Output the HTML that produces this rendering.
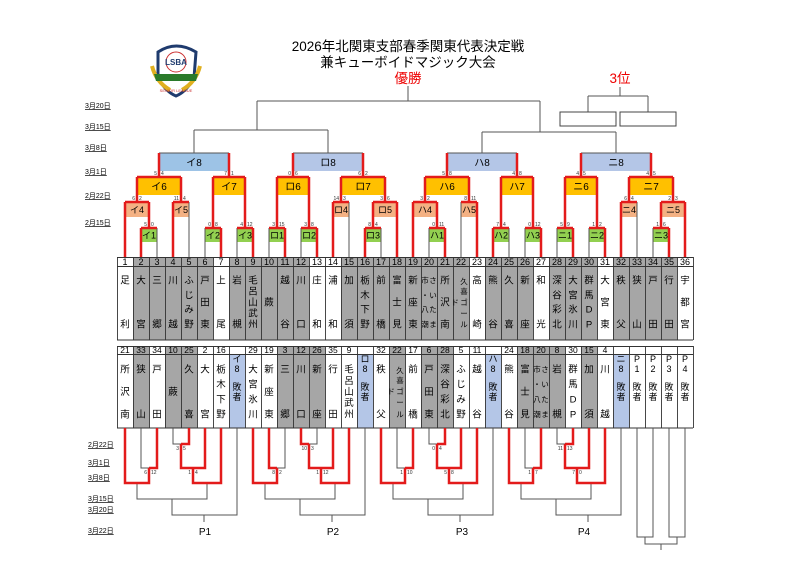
<!DOCTYPE html>
<html><head><meta charset="utf-8"><style>
html,body{margin:0;padding:0;background:#fff;}
svg{display:block;}
text{font-family:"Liberation Sans","Noto Sans CJK JP",sans-serif;}
.t{font-size:9.5px;text-anchor:middle;fill:#000;}
.s{font-size:7.5px;text-anchor:middle;fill:#000;}
.h{font-size:9px;text-anchor:middle;fill:#000;}
.b{font-size:9px;text-anchor:middle;fill:#000;}
.d{font-size:7px;fill:#000;text-decoration:underline;}
.sl{font-size:5px;text-anchor:end;fill:#333;}
.sr{font-size:5px;text-anchor:start;fill:#333;}
</style></head><body>
<svg width="800" height="565" viewBox="0 0 800 565" xmlns="http://www.w3.org/2000/svg">
<defs>
<pattern id="vg" x="117" y="0" width="16" height="600" patternUnits="userSpaceOnUse"><path d="M0.5 0V600" stroke="#333" stroke-width="0.9"/></pattern>
</defs>
<rect width="800" height="565" fill="#fff"/>

<text x="408" y="51" style="font-size:13.5px;text-anchor:middle">2026年北関東支部春季関東代表決定戦</text>
<text x="408" y="67" style="font-size:13.5px;text-anchor:middle">兼キューボイドマジック大会</text>
<text x="408" y="83" style="font-size:13.5px;text-anchor:middle;fill:#e00">優勝</text>
<text x="620" y="83" style="font-size:13.5px;text-anchor:middle;fill:#e00">3位</text>

<g>
<path d="M158 52 Q176 40 196 52 L194 78 Q186 92 176 96 Q166 92 158 78 Z" fill="#fff" stroke="#1f3b6e" stroke-width="3"/>
<path d="M152 66 Q156 82 170 90" fill="none" stroke="#e0b020" stroke-width="4"/>
<path d="M200 66 Q196 82 182 90" fill="none" stroke="#e0b020" stroke-width="4"/>
<circle cx="176" cy="62" r="10" fill="#fff" stroke="#c33" stroke-width="1"/>
<text x="176" y="65" style="font-size:8px;text-anchor:middle;fill:#1f3b6e;font-weight:bold">LSBA</text>
<path d="M154 74 L198 74 L196 81 L156 81 Z" fill="#2a7a2a"/>
<text x="176" y="92" style="font-size:4px;text-anchor:middle;fill:#c33">SENIOR LEAGUE</text>
</g>

<text class="d" x="85" y="108">3月20日</text>
<text class="d" x="85" y="129">3月15日</text>
<text class="d" x="85" y="150">3月8日</text>
<text class="d" x="85" y="174">3月1日</text>
<text class="d" x="85" y="198">2月22日</text>
<text class="d" x="85" y="225">2月15日</text>
<text class="d" x="88" y="447">2月22日</text>
<text class="d" x="88" y="465">3月1日</text>
<text class="d" x="88" y="480">3月8日</text>
<text class="d" x="88" y="501">3月15日</text>
<text class="d" x="88" y="512">3月20日</text>
<text class="d" x="88" y="533">3月22日</text>

<g>
<rect x="141" y="228" width="16" height="14" fill="#92d050"/>
<rect x="205" y="228" width="16" height="14" fill="#92d050"/>
<rect x="237" y="228" width="16" height="14" fill="#92d050"/>
<rect x="269" y="228" width="16" height="14" fill="#92d050"/>
<rect x="301" y="228" width="16" height="14" fill="#92d050"/>
<rect x="365" y="228" width="16" height="14" fill="#92d050"/>
<rect x="429" y="228" width="16" height="14" fill="#92d050"/>
<rect x="493" y="228" width="16" height="14" fill="#92d050"/>
<rect x="525" y="228" width="16" height="14" fill="#92d050"/>
<rect x="557" y="228" width="16" height="14" fill="#92d050"/>
<rect x="589" y="228" width="16" height="14" fill="#92d050"/>
<rect x="653" y="228" width="16" height="14" fill="#92d050"/>

<rect x="125" y="202" width="24" height="15" fill="#f4b183"/>
<rect x="173" y="202" width="16" height="15" fill="#f4b183"/>
<rect x="333" y="202" width="16" height="15" fill="#f4b183"/>
<rect x="373" y="202" width="24" height="15" fill="#f4b183"/>
<rect x="413" y="202" width="24" height="15" fill="#f4b183"/>
<rect x="461" y="202" width="16" height="15" fill="#f4b183"/>
<rect x="621" y="202" width="16" height="15" fill="#f4b183"/>
<rect x="661" y="202" width="24" height="15" fill="#f4b183"/>

<rect x="137" y="177" width="44" height="18" fill="#ffc000"/>
<rect x="213" y="177" width="32" height="18" fill="#ffc000"/>
<rect x="277" y="177" width="32" height="18" fill="#ffc000"/>
<rect x="341" y="177" width="44" height="18" fill="#ffc000"/>
<rect x="425" y="177" width="44" height="18" fill="#ffc000"/>
<rect x="501" y="177" width="32" height="18" fill="#ffc000"/>
<rect x="565" y="177" width="32" height="18" fill="#ffc000"/>
<rect x="629" y="177" width="44" height="18" fill="#ffc000"/>

<rect x="159" y="153" width="70" height="18" fill="#9dc3e6"/>
<rect x="293" y="153" width="70" height="18" fill="#b4c6e7"/>
<rect x="447" y="153" width="70" height="18" fill="#b4c6e7"/>
<rect x="581" y="153" width="70" height="18" fill="#b4c6e7"/>
</g>

<path fill="none" stroke="#555" stroke-width="1" d="M157 228V257 M189 202V257 M205 228V257 M237 228V257 M269 228V257 M301 228V257 M349 202V257 M381 228V257 M429 228V257 M461 202V257 M509 228V257 M525 228V257 M557 228V257 M589 228V257 M637 202V257 M653 228V257
M194 153V130 M328 153V130 M194 130H328 M257 130V101 M482 153V132 M616 153V132 M482 132H616 M540 132V101 M257 101H540 M408 101V86
M159 153H229 M293 153H363 M447 153H517 M581 153H651
M620 87V96 M588 96H648 M588 96V112 M648 96V112"/>
<rect x="560" y="112" width="56" height="14" fill="#fff" stroke="#444" stroke-width="1"/>
<rect x="620" y="112" width="56" height="14" fill="#fff" stroke="#444" stroke-width="1"/>

<path fill="none" stroke="#e31b1b" stroke-width="2.5" d="M141 228V257 M125 202V257 M173 202V257 M221 228V257 M253 228V257 M285 228V257 M317 228V257 M333 202V257 M365 228V257 M397 202V257 M413 202V257 M445 228V257 M477 202V257 M493 228V257 M541 228V257 M573 228V257 M605 228V257 M621 202V257 M669 228V257 M685 202V257
M149 202V228 M137 177V202 M181 177V202 M213 177V228 M245 177V228 M159 153V177 M229 153V177
M277 177V228 M309 177V228 M373 202V228 M341 177V202 M385 177V202 M293 153V177 M363 153V177
M437 202V228 M425 177V202 M469 177V202 M501 177V228 M533 177V228 M447 153V177 M517 153V177
M565 177V228 M597 177V228 M661 202V228 M629 177V202 M673 177V202 M581 153V177 M651 153V177
M141 228H157 M125 202H149 M173 202H189 M137 177H181 M205 228H221 M237 228H253 M213 177H245
M269 228H285 M301 228H317 M277 177H309 M333 202H349 M365 228H381 M373 202H397 M341 177H385
M429 228H445 M413 202H437 M461 202H477 M425 177H469 M493 228H509 M525 228H541 M501 177H533
M557 228H573 M589 228H605 M565 177H597 M621 202H637 M653 228H669 M661 202H685 M629 177H673"/>

<g class="b">
<text x="149" y="238.5">イ1</text><text x="213" y="238.5">イ2</text><text x="245" y="238.5">イ3</text>
<text x="277" y="238.5">ロ1</text><text x="309" y="238.5">ロ2</text><text x="373" y="238.5">ロ3</text>
<text x="437" y="238.5">ハ1</text><text x="501" y="238.5">ハ2</text><text x="533" y="238.5">ハ3</text>
<text x="565" y="238.5">ニ1</text><text x="597" y="238.5">ニ2</text><text x="661" y="238.5">ニ3</text>
<text x="137" y="213">イ4</text><text x="181" y="213">イ5</text><text x="341" y="213">ロ4</text><text x="385" y="213">ロ5</text>
<text x="425" y="213">ハ4</text><text x="469" y="213">ハ5</text><text x="629" y="213">ニ4</text><text x="673" y="213">ニ5</text>
</g>
<g class="t" style="font-size:10px">
<text x="159" y="190">イ6</text><text x="229" y="190">イ7</text><text x="293" y="190">ロ6</text><text x="363" y="190">ロ7</text>
<text x="447" y="190">ハ6</text><text x="517" y="190">ハ7</text><text x="581" y="190">ニ6</text><text x="651" y="190">ニ7</text>
<text x="194" y="166">イ8</text><text x="328" y="166">ロ8</text><text x="482" y="166">ハ8</text><text x="616" y="166">ニ8</text>
</g>

<g>
<text class="sl" x="147" y="226">5</text><text class="sr" x="151" y="226">0</text>
<text class="sl" x="135" y="200">6</text><text class="sr" x="139" y="200">2</text>
<text class="sl" x="179" y="200">11</text><text class="sr" x="183" y="200">4</text>
<text class="sl" x="157" y="175">5</text><text class="sr" x="161" y="175">4</text>
<text class="sl" x="211" y="226">0</text><text class="sr" x="215" y="226">8</text>
<text class="sl" x="243" y="226">4</text><text class="sr" x="247" y="226">12</text>
<text class="sl" x="227" y="175">7</text><text class="sr" x="231" y="175">1</text>
<text class="sl" x="275" y="226">3</text><text class="sr" x="279" y="226">15</text>
<text class="sl" x="307" y="226">3</text><text class="sr" x="311" y="226">8</text>
<text class="sl" x="291" y="175">0</text><text class="sr" x="295" y="175">6</text>
<text class="sl" x="339" y="200">14</text><text class="sr" x="343" y="200">3</text>
<text class="sl" x="371" y="226">8</text><text class="sr" x="375" y="226">4</text>
<text class="sl" x="383" y="200">3</text><text class="sr" x="387" y="200">6</text>
<text class="sl" x="361" y="175">6</text><text class="sr" x="365" y="175">2</text>
<text class="sl" x="435" y="226">0</text><text class="sr" x="439" y="226">11</text>
<text class="sl" x="423" y="200">3</text><text class="sr" x="427" y="200">2</text>
<text class="sl" x="467" y="200">8</text><text class="sr" x="471" y="200">11</text>
<text class="sl" x="445" y="175">5</text><text class="sr" x="449" y="175">8</text>
<text class="sl" x="499" y="226">7</text><text class="sr" x="503" y="226">4</text>
<text class="sl" x="531" y="226">0</text><text class="sr" x="535" y="226">12</text>
<text class="sl" x="515" y="175">4</text><text class="sr" x="519" y="175">8</text>
<text class="sl" x="563" y="226">5</text><text class="sr" x="567" y="226">9</text>
<text class="sl" x="595" y="226">1</text><text class="sr" x="599" y="226">2</text>
<text class="sl" x="579" y="175">4</text><text class="sr" x="583" y="175">5</text>
<text class="sl" x="627" y="200">6</text><text class="sr" x="631" y="200">4</text>
<text class="sl" x="659" y="226">1</text><text class="sr" x="663" y="226">6</text>
<text class="sl" x="671" y="200">2</text><text class="sr" x="675" y="200">3</text>
<text class="sl" x="649" y="175">4</text><text class="sr" x="653" y="175">5</text>
</g>

<rect x="117" y="257" width="576" height="83" fill="#fff"/>
<g fill="#a6a6a6">
<rect x="133" y="257" width="80" height="83"/>
<rect x="229" y="257" width="80" height="83"/>
<rect x="341" y="257" width="128" height="83"/>
<rect x="485" y="257" width="48" height="83"/>
<rect x="549" y="257" width="48" height="83"/>
<rect x="613" y="257" width="64" height="83"/>
</g>
<rect x="117" y="257" width="577" height="83" fill="url(#vg)"/>
<path d="M117 257.5H693 M117 266.5H693 M117 340H693" stroke="#333" stroke-width="1"/>

<g class="h">
<text x="125" y="265">1</text><text x="141" y="265">2</text><text x="157" y="265">3</text><text x="173" y="265">4</text><text x="189" y="265">5</text><text x="205" y="265">6</text><text x="221" y="265">7</text><text x="237" y="265">8</text><text x="253" y="265">9</text><text x="269" y="265">10</text><text x="285" y="265">11</text><text x="301" y="265">12</text><text x="317" y="265">13</text><text x="333" y="265">14</text><text x="349" y="265">15</text><text x="365" y="265">16</text><text x="381" y="265">17</text><text x="397" y="265">18</text><text x="413" y="265">19</text><text x="429" y="265">20</text><text x="445" y="265">21</text><text x="461" y="265">22</text><text x="477" y="265">23</text><text x="493" y="265">24</text><text x="509" y="265">25</text><text x="525" y="265">26</text><text x="541" y="265">27</text><text x="557" y="265">28</text><text x="573" y="265">29</text><text x="589" y="265">30</text><text x="605" y="265">31</text><text x="621" y="265">32</text><text x="637" y="265">33</text><text x="653" y="265">34</text><text x="669" y="265">35</text><text x="685" y="265">36</text>
</g>

<g class="t">
<text x="125" y="283.5">足<tspan x="125" y="327.5">利</tspan></text>
<text x="141" y="283.5">大<tspan x="141" y="327.5">宮</tspan></text>
<text x="157" y="283.5">三<tspan x="157" y="327.5">郷</tspan></text>
<text x="173" y="283.5">川<tspan x="173" y="327.5">越</tspan></text>
<text x="189" y="283.5">ふ<tspan x="189" y="298.5">じ</tspan><tspan x="189" y="312.5">み</tspan><tspan x="189" y="327.5">野</tspan></text>
<text x="205" y="283.5">戸<tspan x="205" y="305.5">田</tspan><tspan x="205" y="327.5">東</tspan></text>
<text x="221" y="283.5">上<tspan x="221" y="327.5">尾</tspan></text>
<text x="237" y="283.5">岩<tspan x="237" y="327.5">槻</tspan></text>
<text x="253" y="283.5">毛<tspan x="253" y="294.5">呂</tspan><tspan x="253" y="305.5">山</tspan><tspan x="253" y="316.5">武</tspan><tspan x="253" y="327.5">州</tspan></text>
<text x="269" y="305.5">蕨</text>
<text x="285" y="283.5">越<tspan x="285" y="327.5">谷</tspan></text>
<text x="301" y="283.5">川<tspan x="301" y="327.5">口</tspan></text>
<text x="317" y="283.5">庄<tspan x="317" y="327.5">和</tspan></text>
<text x="333" y="283.5">浦<tspan x="333" y="327.5">和</tspan></text>
<text x="349" y="283.5">加<tspan x="349" y="327.5">須</tspan></text>
<text x="365" y="283.5">栃<tspan x="365" y="298.5">木</tspan><tspan x="365" y="312.5">下</tspan><tspan x="365" y="327.5">野</tspan></text>
<text x="381" y="283.5">前<tspan x="381" y="327.5">橋</tspan></text>
<text x="397" y="283.5">富<tspan x="397" y="305.5">士</tspan><tspan x="397" y="327.5">見</tspan></text>
<text x="413" y="283.5">新<tspan x="413" y="305.5">座</tspan><tspan x="413" y="327.5">東</tspan></text>
<text x="445" y="283.5">所<tspan x="445" y="305.5">沢</tspan><tspan x="445" y="327.5">南</tspan></text>
<text x="477" y="283.5">高<tspan x="477" y="327.5">崎</tspan></text>
<text x="493" y="283.5">熊<tspan x="493" y="327.5">谷</tspan></text>
<text x="509" y="283.5">久<tspan x="509" y="327.5">喜</tspan></text>
<text x="525" y="283.5">新<tspan x="525" y="327.5">座</tspan></text>
<text x="541" y="283.5">和<tspan x="541" y="327.5">光</tspan></text>
<text x="557" y="283.5">深<tspan x="557" y="298.5">谷</tspan><tspan x="557" y="312.5">彩</tspan><tspan x="557" y="327.5">北</tspan></text>
<text x="573" y="283.5">大<tspan x="573" y="298.5">宮</tspan><tspan x="573" y="312.5">氷</tspan><tspan x="573" y="327.5">川</tspan></text>
<text x="589" y="283.5">群<tspan x="589" y="298.5">馬</tspan><tspan x="589" y="312.5">D</tspan><tspan x="589" y="327.5">P</tspan></text>
<text x="605" y="283.5">大<tspan x="605" y="305.5">宮</tspan><tspan x="605" y="327.5">東</tspan></text>
<text x="621" y="283.5">秩<tspan x="621" y="327.5">父</tspan></text>
<text x="637" y="283.5">狭<tspan x="637" y="327.5">山</tspan></text>
<text x="653" y="283.5">戸<tspan x="653" y="327.5">田</tspan></text>
<text x="669" y="283.5">行<tspan x="669" y="327.5">田</tspan></text>
<text x="685" y="283.5">宇<tspan x="685" y="305.5">都</tspan><tspan x="685" y="327.5">宮</tspan></text>
</g>
<g class="s">
<text x="425" y="283">市<tspan x="425" y="298">・</tspan><tspan x="425" y="312">八</tspan><tspan x="425" y="327">潮</tspan></text>
<text x="433" y="283">さ<tspan x="433" y="298">い</tspan><tspan x="433" y="312">た</tspan><tspan x="433" y="327">ま</tspan></text>
<text x="464" y="284">久<tspan x="464" y="294">喜</tspan><tspan x="464" y="305">ゴ</tspan><tspan x="464" y="316">ー</tspan><tspan x="464" y="327">ル</tspan></text>
<text x="455" y="305">ド</text>
</g>

<rect x="117" y="346" width="576" height="82" fill="#fff"/>
<g fill="#a6a6a6">
<rect x="133" y="346" width="16" height="82"/>
<rect x="165" y="346" width="32" height="82"/>
<rect x="277" y="346" width="48" height="82"/>
<rect x="389" y="346" width="16" height="82"/>
<rect x="421" y="346" width="32" height="82"/>
<rect x="517" y="346" width="48" height="82"/>
<rect x="581" y="346" width="16" height="82"/>
</g>
<g fill="#b4c6e7">
<rect x="229" y="354" width="16" height="74"/>
<rect x="357" y="354" width="16" height="74"/>
<rect x="485" y="354" width="16" height="74"/>
<rect x="613" y="354" width="16" height="74"/>
</g>
<rect x="117" y="346" width="577" height="82" fill="url(#vg)"/>
<path d="M117 346.5H693 M117 354.5H693 M117 428H693" stroke="#333" stroke-width="1"/>

<g class="h" style="font-size:8.5px">
<text x="125" y="353">21</text><text x="141" y="353">33</text><text x="157" y="353">34</text><text x="173" y="353">10</text><text x="189" y="353">25</text><text x="205" y="353">2</text><text x="221" y="353">16</text>
<text x="253" y="353">29</text><text x="269" y="353">19</text><text x="285" y="353">3</text><text x="301" y="353">12</text><text x="317" y="353">26</text><text x="333" y="353">35</text><text x="349" y="353">9</text>
<text x="381" y="353">32</text><text x="397" y="353">22</text><text x="413" y="353">17</text><text x="429" y="353">6</text><text x="445" y="353">28</text><text x="461" y="353">5</text><text x="477" y="353">11</text>
<text x="509" y="353">24</text><text x="525" y="353">18</text><text x="541" y="353">20</text><text x="557" y="353">8</text><text x="573" y="353">30</text><text x="589" y="353">15</text><text x="605" y="353">4</text>
</g>

<g class="t">
<text x="125" y="372.5">所<tspan x="125" y="395">沢</tspan><tspan x="125" y="417.5">南</tspan></text>
<text x="141" y="372.5">狭<tspan x="141" y="417.5">山</tspan></text>
<text x="157" y="372.5">戸<tspan x="157" y="417.5">田</tspan></text>
<text x="173" y="395">蕨</text>
<text x="189" y="372.5">久<tspan x="189" y="417.5">喜</tspan></text>
<text x="205" y="372.5">大<tspan x="205" y="417.5">宮</tspan></text>
<text x="221" y="372.5">栃<tspan x="221" y="387.5">木</tspan><tspan x="221" y="402.5">下</tspan><tspan x="221" y="417.5">野</tspan></text>
<text x="253" y="372.5">大<tspan x="253" y="387.5">宮</tspan><tspan x="253" y="402.5">氷</tspan><tspan x="253" y="417.5">川</tspan></text>
<text x="269" y="372.5">新<tspan x="269" y="395">座</tspan><tspan x="269" y="417.5">東</tspan></text>
<text x="285" y="372.5">三<tspan x="285" y="417.5">郷</tspan></text>
<text x="301" y="372.5">川<tspan x="301" y="417.5">口</tspan></text>
<text x="317" y="372.5">新<tspan x="317" y="417.5">座</tspan></text>
<text x="333" y="372.5">行<tspan x="333" y="417.5">田</tspan></text>
<text x="349" y="372.5">毛<tspan x="349" y="384">呂</tspan><tspan x="349" y="395">山</tspan><tspan x="349" y="406">武</tspan><tspan x="349" y="417.5">州</tspan></text>
<text x="381" y="372.5">秩<tspan x="381" y="417.5">父</tspan></text>
<text x="413" y="372.5">前<tspan x="413" y="417.5">橋</tspan></text>
<text x="429" y="372.5">戸<tspan x="429" y="395">田</tspan><tspan x="429" y="417.5">東</tspan></text>
<text x="445" y="372.5">深<tspan x="445" y="387.5">谷</tspan><tspan x="445" y="402.5">彩</tspan><tspan x="445" y="417.5">北</tspan></text>
<text x="461" y="372.5">ふ<tspan x="461" y="387.5">じ</tspan><tspan x="461" y="402.5">み</tspan><tspan x="461" y="417.5">野</tspan></text>
<text x="477" y="372.5">越<tspan x="477" y="417.5">谷</tspan></text>
<text x="509" y="372.5">熊<tspan x="509" y="417.5">谷</tspan></text>
<text x="525" y="372.5">富<tspan x="525" y="395">士</tspan><tspan x="525" y="417.5">見</tspan></text>
<text x="557" y="372.5">岩<tspan x="557" y="417.5">槻</tspan></text>
<text x="573" y="372.5">群<tspan x="573" y="387.5">馬</tspan><tspan x="573" y="402.5">D</tspan><tspan x="573" y="417.5">P</tspan></text>
<text x="589" y="372.5">加<tspan x="589" y="417.5">須</tspan></text>
<text x="605" y="372.5">川<tspan x="605" y="417.5">越</tspan></text>
</g>
<g class="s">
<text x="537" y="372">市<tspan x="537" y="387">・</tspan><tspan x="537" y="402">八</tspan><tspan x="537" y="417">潮</tspan></text>
<text x="545" y="372">さ<tspan x="545" y="387">い</tspan><tspan x="545" y="402">た</tspan><tspan x="545" y="417">ま</tspan></text>
<text x="400" y="373">久<tspan x="400" y="383">喜</tspan><tspan x="400" y="394">ゴ</tspan><tspan x="400" y="405">ー</tspan><tspan x="400" y="417">ル</tspan></text>
<text x="391" y="394">ド</text>
</g>
<g class="b">
<text x="237" y="362">イ<tspan x="237" y="372">8</tspan><tspan x="237" y="390">敗</tspan><tspan x="237" y="400">者</tspan></text>
<text x="365" y="362">ロ<tspan x="365" y="372">8</tspan><tspan x="365" y="390">敗</tspan><tspan x="365" y="400">者</tspan></text>
<text x="493" y="362">ハ<tspan x="493" y="372">8</tspan><tspan x="493" y="390">敗</tspan><tspan x="493" y="400">者</tspan></text>
<text x="621" y="362">ニ<tspan x="621" y="372">8</tspan><tspan x="621" y="390">敗</tspan><tspan x="621" y="400">者</tspan></text>
<text x="637" y="362">P<tspan x="637" y="372">1</tspan><tspan x="637" y="390">敗</tspan><tspan x="637" y="400">者</tspan></text>
<text x="653" y="362">P<tspan x="653" y="372">2</tspan><tspan x="653" y="390">敗</tspan><tspan x="653" y="400">者</tspan></text>
<text x="669" y="362">P<tspan x="669" y="372">3</tspan><tspan x="669" y="390">敗</tspan><tspan x="669" y="400">者</tspan></text>
<text x="685" y="362">P<tspan x="685" y="372">4</tspan><tspan x="685" y="390">敗</tspan><tspan x="685" y="400">者</tspan></text>
</g>

<path fill="none" stroke="#555" stroke-width="1" d="M141 428V468H149 M173 428V444H181 M137 483V499H172 M207 483V499H172 M172 499V515H204 M237 428V515H204 M204 515V522
M285 428V468H277 M317 428V444H309 M265 483V499H300 M335 483V499H300 M300 499V515H332 M365 428V515H332 M332 515V522
M397 428V468H405 M429 428V444H437 M393 483V499H428 M463 483V499H428 M428 499V515H460 M493 428V515H460 M460 515V522
M525 428V468H533 M557 428V444H565 M521 483V499H556 M591 483V499H556 M556 499V515H588 M621 428V515H588 M588 515V522
M637 428V537H653V428 M669 428V537H685V428 M645 537V544H677V537 M661 544V550"/>

<path fill="none" stroke="#e31b1b" stroke-width="2.5" d="M125 428V483H137 M157 428V468H149 M149 468V483H137 M189 428V444H181 M181 444V468H193 M205 428V468H193 M193 468V483H207 M221 428V483H207
M253 428V483H265 M269 428V468H277 M277 468V483H265 M301 428V444H309 M309 444V468H321 M333 428V468H321 M321 468V483H335 M349 428V483H335
M381 428V483H393 M413 428V468H405 M405 468V483H393 M445 428V444H437 M437 444V468H449 M461 428V468H449 M449 468V483H463 M477 428V483H463
M509 428V483H521 M541 428V468H533 M533 468V483H521 M573 428V444H565 M565 444V468H577 M589 428V468H577 M577 468V483H591 M605 428V483H591"/>

<g>
<text class="sl" x="147" y="474">6</text><text class="sr" x="151" y="474">12</text>
<text class="sl" x="179" y="450">3</text><text class="sr" x="183" y="450">5</text>
<text class="sl" x="191" y="474">1</text><text class="sr" x="195" y="474">4</text>
<text class="sl" x="275" y="474">8</text><text class="sr" x="279" y="474">2</text>
<text class="sl" x="307" y="450">10</text><text class="sr" x="311" y="450">3</text>
<text class="sl" x="319" y="474">1</text><text class="sr" x="323" y="474">12</text>
<text class="sl" x="403" y="474">1</text><text class="sr" x="407" y="474">10</text>
<text class="sl" x="435" y="450">0</text><text class="sr" x="439" y="450">4</text>
<text class="sl" x="447" y="474">5</text><text class="sr" x="451" y="474">8</text>
<text class="sl" x="531" y="474">1</text><text class="sr" x="535" y="474">7</text>
<text class="sl" x="563" y="450">11</text><text class="sr" x="567" y="450">13</text>
<text class="sl" x="575" y="474">7</text><text class="sr" x="579" y="474">0</text>
</g>

<g style="font-size:10px;text-anchor:middle">
<text x="205" y="535">P1</text>
<text x="333" y="535">P2</text>
<text x="462" y="535">P3</text>
<text x="584" y="535">P4</text>
</g>
</svg>
</body></html>
